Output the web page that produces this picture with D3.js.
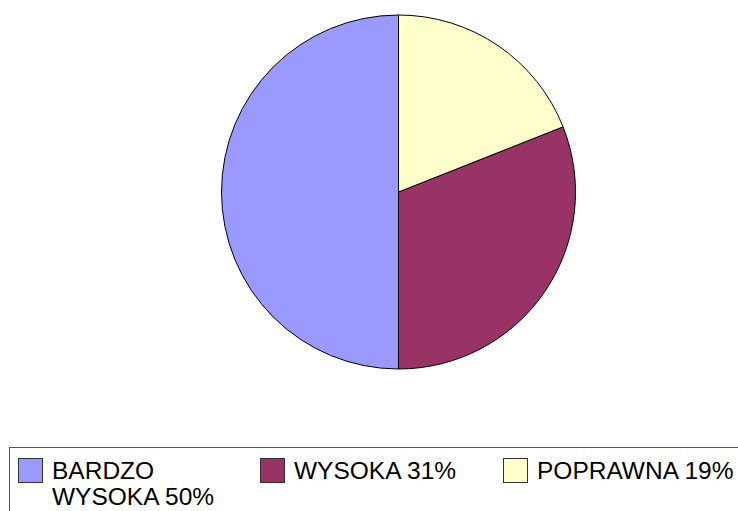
<!DOCTYPE html>
<html lang="pl">
<head>
	<meta charset="utf-8">
	<title>Pie chart</title>
	<script src="https://d3js.org/d3.v7.min.js"></script>
	<style>
		body { margin: 0; background: #fff; }
		svg { display: block; font-family: "Liberation Sans", Arial, sans-serif; }
	</style>
</head>
<body>
	<div id="container"></div>
	<script>
		// Data
		const categories = ["BARDZO WYSOKA", "WYSOKA", "POPRAWNA"];
		const values = [50, 31, 19];
		const legendLines = [["BARDZO", "WYSOKA 50%"], ["WYSOKA 31%"], ["POPRAWNA 19%"]];

		const width = 738;
		const height = 511;

		const svg = d3.select("#container")
			.append("svg")
			.attr("width", width)
			.attr("height", height);

		const color = d3.scaleOrdinal()
			.domain(categories)
			.range(["#9999ff", "#993366", "#ffffcc"]);

		// Draw pie (counter-clockwise from 12 o'clock)
		const pie = d3.pie()
			.sort(null)
			.startAngle(0)
			.endAngle(-2 * Math.PI)
			.value(d => d.value);

		const arc = d3.arc()
			.innerRadius(0)
			.outerRadius(177);

		const data = categories.map((c, i) => ({ key: c, value: values[i] }));

		svg.append("g")
			.attr("transform", "translate(398.5, 192)")
			.selectAll("path")
			.data(pie(data))
			.join("path")
			.attr("d", arc)
			.style("fill", d => color(d.data.key))
			.style("stroke", "#000")
			.style("stroke-width", 1)
			.style("stroke-linejoin", "round");

		// Legend
		const legend = svg.append("g");

		legend.append("rect")
			.attr("x", 9.5)
			.attr("y", 447.5)
			.attr("width", 740)
			.attr("height", 80)
			.style("fill", "none")
			.style("stroke", "#555")
			.style("stroke-width", 1);

		const legendX = [18, 260, 503];

		const items = legend.selectAll(".item")
			.data(categories)
			.join("g")
			.attr("class", "item")
			.attr("transform", (d, i) => `translate(${legendX[i]}, 458)`);

		items.append("rect")
			.attr("x", 0.5)
			.attr("y", 0.5)
			.attr("width", 24)
			.attr("height", 24)
			.style("fill", d => color(d))
			.style("stroke", "#333")
			.style("stroke-width", 1);

		items.append("text")
			.style("font-size", "24.5px")
			.style("fill", "#000")
			.selectAll("tspan")
			.data((d, i) => legendLines[i])
			.join("tspan")
			.attr("x", 34)
			.attr("y", (d, j) => 20.5 + j * 26.5)
			.text(d => d);
	</script>
</body>
</html>
